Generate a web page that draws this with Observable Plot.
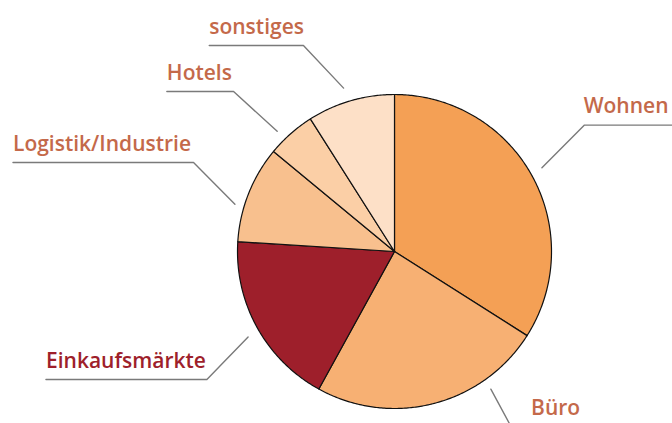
<!DOCTYPE html>
<html>
<head>
<meta charset="utf-8">
<script src="https://cdn.jsdelivr.net/npm/d3@7"></script>
<script src="https://cdn.jsdelivr.net/npm/@observablehq/plot@0.6"></script>
<style>
  html, body { margin: 0; padding: 0; background: #fff; }
  #chart svg { display: block; }
</style>
</head>
<body>
<div id="chart"></div>
<script>
// ---- data ----
const categories = ["Wohnen", "Büro", "Einkaufsmärkte", "Logistik/Industrie", "Hotels", "sonstiges"];
const shares = [34, 24, 18, 10, 5, 9];
const colors = ["#f4a055", "#f7b073", "#9e1f2b", "#f8c08e", "#fbcfa6", "#fde0c7"];
const labelColors = ["#c4694a", "#c4694a", "#9e1f2b", "#c4694a", "#c4694a", "#c4694a"];

// ---- layout of leader lines (in units of the pie radius, centre = 0,0, y up) ----
const leaderLayout = {
  "Wohnen":             {ang: 60.4,  r: 1.08, ex: 1.21,  ey: 0.805, tx: 1.77,  side: "right"},
  "Büro":               {ang: 145,   r: 1.07, ex: 0.85,  ey: -1.10, tx: 0.85,  side: "none"},
  "Einkaufsmärkte":     {ang: 239.7, r: 1.08, ex: -1.195, ey: -0.815, tx: -2.22, side: "left"},
  "Logistik/Industrie": {ang: 286.5, r: 1.06, ex: -1.28, ey: 0.567, tx: -2.43, side: "left"},
  "Hotels":             {ang: 315.7, r: 1.07, ex: -1.025, ey: 1.019, tx: -1.45, side: "left"},
  "sonstiges":          {ang: 342.7, r: 1.09, ex: -0.58, ey: 1.312, tx: -1.18, side: "left"}
};

// ---- pie geometry from values ----
const pie = d3.pie().sort(null).value(d => d.value)(
  categories.map((c, i) => ({name: c, value: shares[i], color: colors[i]}))
);
const polys = [];
pie.forEach(s => {
  const n = Math.max(4, Math.ceil((s.endAngle - s.startAngle) / 0.01));
  polys.push({name: s.data.name, x: 0, y: 0});
  for (let k = 0; k <= n; k++) {
    const a = s.startAngle + (s.endAngle - s.startAngle) * k / n;
    polys.push({name: s.data.name, x: Math.sin(a), y: Math.cos(a)});
  }
});

// leader lines
const leaders = [];
const labels = [];
categories.forEach((c, i) => {
  const L = leaderLayout[c];
  const a = L.ang * Math.PI / 180;
  const px = L.r * Math.sin(a), py = L.r * Math.cos(a);
  if (c === "Büro") {
    leaders.push({name: c, x: px, y: py}, {name: c, x: 0.85, y: -1.095 - 0.22});
    labels.push({name: c, x: 0.87, y: -1.04, color: labelColors[i]});
  } else if (L.side === "right") {
    leaders.push({name: c, x: px, y: py}, {name: c, x: L.ex, y: L.ey}, {name: c, x: L.tx, y: L.ey});
    labels.push({name: c, x: L.ex - 0.005, y: L.ey + 0.075, color: labelColors[i]});
  } else {
    leaders.push({name: c, x: px, y: py}, {name: c, x: L.ex, y: L.ey}, {name: c, x: L.tx, y: L.ey});
    labels.push({name: c, x: L.tx, y: L.ey + 0.075, color: labelColors[i]});
  }
});

const chart = Plot.plot({
  width: 672,
  height: 423,
  margin: 0,
  x: {domain: [-1, 1], range: [237, 551], axis: null},
  y: {domain: [-1, 1], range: [408, 94], axis: null},
  color: {domain: categories, range: colors},
  style: {fontFamily: "'Open Sans', sans-serif", background: "#fff", overflow: "visible"},
  marks: [
    Plot.line(polys, {x: "x", y: "y", z: "name", fill: "name", stroke: "#111", strokeWidth: 1.2, curve: "linear-closed"}),
    Plot.line(leaders, {x: "x", y: "y", z: "name", stroke: "#7a7a7a", strokeWidth: 1.4}),
    Plot.text(labels, {x: "x", y: "y", text: "name", fill: "color", textAnchor: "start", lineAnchor: "bottom",
      fontSize: 21, fontWeight: 600})
  ]
});
document.getElementById("chart").appendChild(chart);
</script>
</body>
</html>
